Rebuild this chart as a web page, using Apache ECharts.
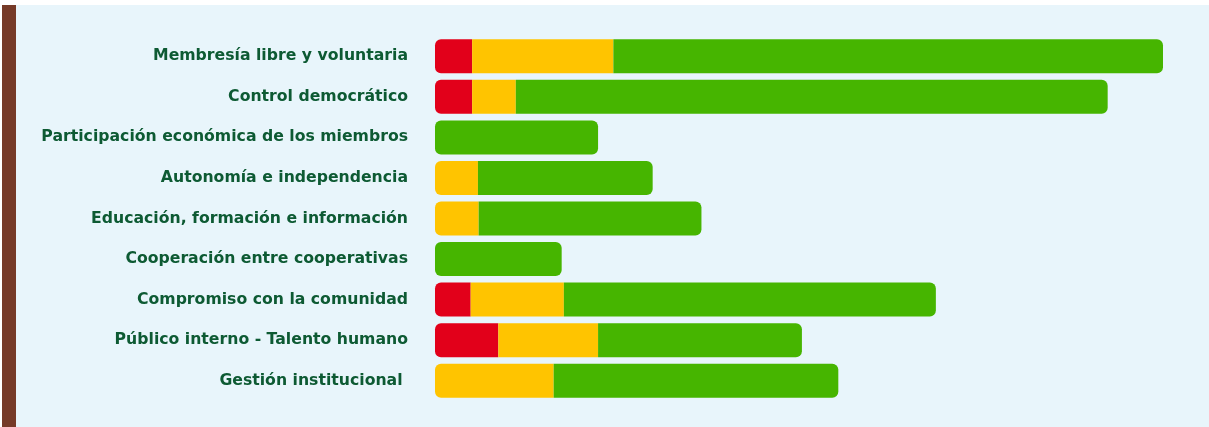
<!DOCTYPE html>
<html>
<head>
<meta charset="utf-8">
<script src="https://cdn.jsdelivr.net/npm/echarts@6/dist/echarts.min.js"></script>
<style>
  html, body { margin: 0; padding: 0; background: #ffffff; }
  #wrap { position: relative; width: 1209px; height: 427px; overflow: hidden; background: #ffffff; }
  #panel { position: absolute; left: 2px; top: 5px; width: 1207px; height: 422px; background: #E8F5FB; }
  #edge { position: absolute; left: 2px; top: 5px; width: 14px; height: 422px; background: #763A28; }
  #chart { position: absolute; left: 0; top: 0; width: 1209px; height: 427px; }
</style>
</head>
<body>
<div id="wrap">
  <div id="panel"></div>
  <div id="edge"></div>
  <div id="chart"></div>
</div>
<script>
// Principles, top to bottom
const categories = [
  'Membresía libre y voluntaria',
  'Control democrático',
  'Participación económica de los miembros',
  'Autonomía e independencia',
  'Educación, formación e información',
  'Cooperación entre cooperativas',
  'Compromiso con la comunidad',
  'Público interno - Talento humano',
  'Gestión institucional '
];

// Segment values per principle (null = no segment)
const redValues    = [5.1, 5.1, null, null, null, null, 4.9, 8.7, null];
const yellowValues = [19.4, 6.0, null, 5.9, 6.0, null, 12.8, 13.7, 16.3];
const greenValues  = [75.5, 81.3, 22.4, 24.0, 30.6, 17.4, 51.1, 28.0, 39.1];

const seriesDefs = [
  { name: 'Rojo', values: redValues, color: '#E2001A' },
  { name: 'Amarillo', values: yellowValues, color: '#FFC400' },
  { name: 'Verde', values: greenValues, color: '#46B500' }
];

const R = 6;
// Round only the outer ends of each stacked row
function buildData(idx) {
  return seriesDefs[idx].values.map((v, row) => {
    if (v == null) return null;
    const present = seriesDefs.map(s => s.values[row] != null);
    const first = present.indexOf(true);
    const last = present.lastIndexOf(true);
    const left = idx === first ? R : 0;
    const right = idx === last ? R : 0;
    // horizontal bar: [top-left, top-right, bottom-right, bottom-left]
    return { value: v, itemStyle: { borderRadius: [left, right, right, left] } };
  });
}

const chart = echarts.init(document.getElementById('chart'), null, { renderer: 'canvas' });
chart.setOption({
  animation: false,
  grid: { left: 435, right: 46, top: 36, bottom: 26, containLabel: false },
  xAxis: {
    type: 'value', min: 0, max: 100, show: false
  },
  yAxis: {
    type: 'category',
    inverse: true,
    data: categories,
    axisLine: { show: false },
    axisTick: { show: false },
    axisLabel: {
      margin: 27,
      color: '#0D5A33',
      fontFamily: 'DejaVu Sans',
      fontWeight: 'bold',
      fontSize: 15.7
    }
  },
  series: seriesDefs.map((s, i) => ({
    name: s.name,
    type: 'bar',
    stack: 'total',
    barWidth: 34,
    itemStyle: { color: s.color },
    data: buildData(i)
  }))
});
</script>
</body>
</html>
